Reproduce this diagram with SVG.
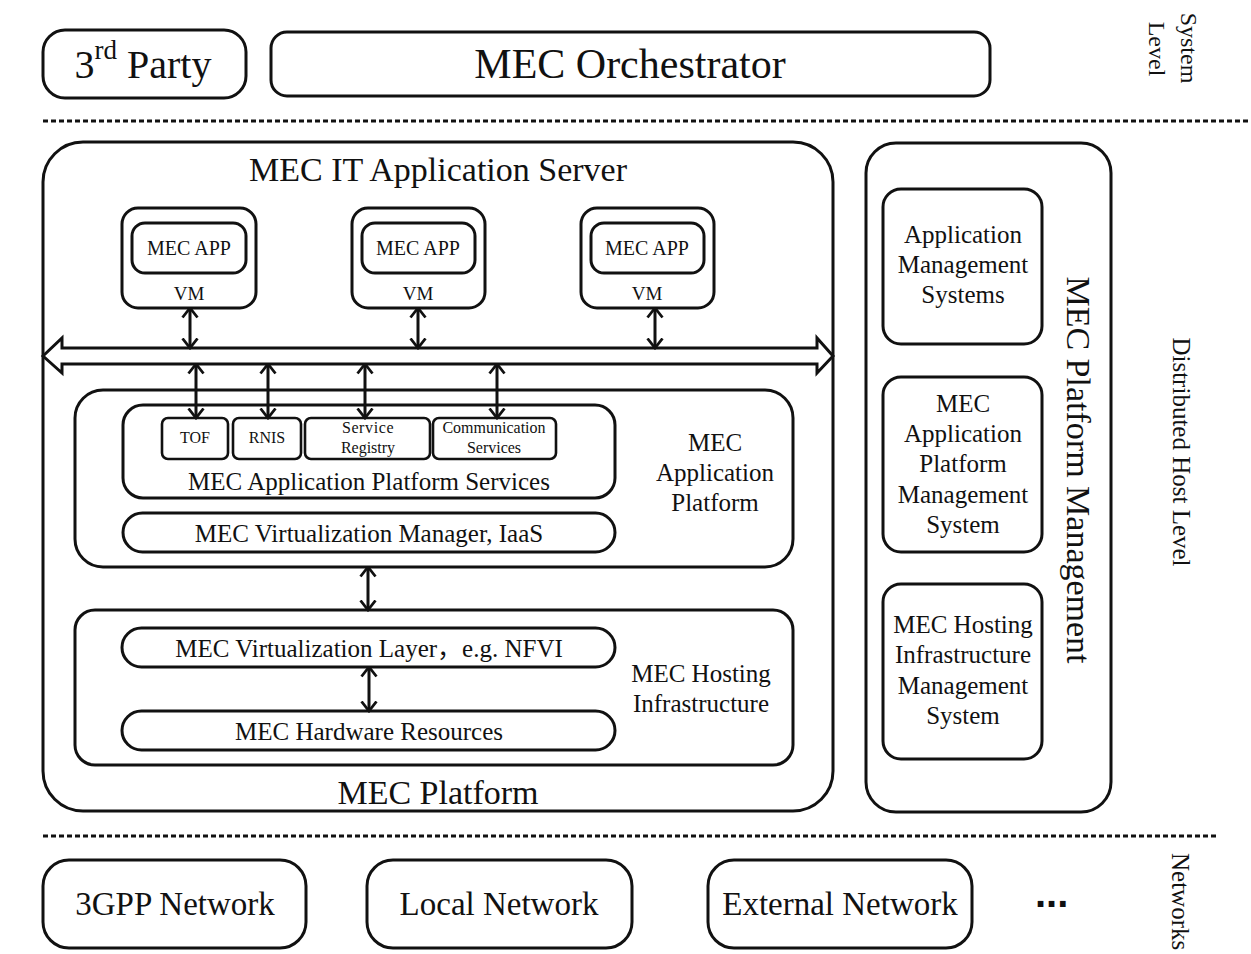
<svg xmlns="http://www.w3.org/2000/svg" width="1251" height="954" viewBox="0 0 1251 954">
  <style>
    .box { fill: #fff; stroke: #111; stroke-width: 3; }
    .thin { fill: #fff; stroke: #111; stroke-width: 2.6; }
    .t { font-family: "Liberation Serif", "Noto Sans CJK SC", serif; fill: #111; text-anchor: middle; }
    .dash { stroke: #111; stroke-width: 3; stroke-dasharray: 5 3; fill: none; }
    .conn { stroke: #111; stroke-width: 3; fill: none; marker-start: url(#head); marker-end: url(#head); }
  </style>
  <defs>
    <marker id="head" viewBox="0 0 12 18" refX="10.5" refY="9" markerWidth="12" markerHeight="18" markerUnits="userSpaceOnUse" orient="auto-start-reverse">
      <path d="M1,1.5 L10.5,9 L1,16.5" fill="none" stroke="#111" stroke-width="2.8"/>
    </marker>
  </defs>
  <rect width="1251" height="954" fill="#fff"/>

  <!-- system level -->
  <g id="third-party">
    <rect class="box" x="43" y="30" width="203" height="68" rx="22"/>
    <text class="t" x="143" y="78" font-size="40">3<tspan font-size="27" dy="-19">rd</tspan><tspan dy="19"> Party</tspan></text>
  </g>
  <g id="orchestrator">
    <rect class="box" x="271" y="32" width="719" height="64" rx="16"/>
    <text class="t" x="630" y="78" font-size="42">MEC Orchestrator</text>
  </g>
  <text class="t" font-size="24" transform="translate(1181,48) rotate(90)">System</text>
  <text class="t" font-size="24" transform="translate(1149,49) rotate(90)">Level</text>

  <line class="dash" x1="43" y1="121" x2="1251" y2="121"/>

  <!-- distributed host level -->
  <g id="it-app-server">
    <rect class="box" x="43" y="142" width="790" height="669" rx="40"/>
    <text class="t" x="438" y="181" font-size="34">MEC IT Application Server</text>
    <text class="t" x="438" y="804" font-size="34">MEC Platform</text>
  </g>

  <g id="vm1">
    <rect class="box" x="122" y="208" width="134" height="100" rx="16"/>
    <rect class="box" x="132" y="223" width="114" height="50" rx="13"/>
    <text class="t" x="189" y="255" font-size="20">MEC APP</text>
    <text class="t" x="189" y="300" font-size="19">VM</text>
  </g>
  <g id="vm2">
    <rect class="box" x="352" y="208" width="133" height="100" rx="16"/>
    <rect class="box" x="362" y="223" width="113" height="50" rx="13"/>
    <text class="t" x="418" y="255" font-size="20">MEC APP</text>
    <text class="t" x="418" y="300" font-size="19">VM</text>
  </g>
  <g id="vm3">
    <rect class="box" x="581" y="208" width="133" height="100" rx="16"/>
    <rect class="box" x="591" y="223" width="113" height="50" rx="13"/>
    <text class="t" x="647" y="255" font-size="20">MEC APP</text>
    <text class="t" x="647" y="300" font-size="19">VM</text>
  </g>

  <g id="app-platform">
    <rect class="box" x="75" y="390" width="718" height="177" rx="28"/>
    <text class="t" x="715" y="451" font-size="25">MEC</text>
    <text class="t" x="715" y="481" font-size="25">Application</text>
    <text class="t" x="715" y="511" font-size="25">Platform</text>
  </g>
  <g id="platform-services">
    <rect class="box" x="123" y="405" width="492" height="93" rx="20"/>
    <text class="t" x="369" y="490" font-size="25">MEC Application Platform Services</text>
  </g>
  <g id="tof">
    <rect class="thin" x="162" y="418" width="66" height="41" rx="6"/>
    <text class="t" x="195" y="443" font-size="16">TOF</text>
  </g>
  <g id="rnis">
    <rect class="thin" x="233" y="418" width="68" height="41" rx="6"/>
    <text class="t" x="267" y="443" font-size="16">RNIS</text>
  </g>
  <g id="service-registry">
    <rect class="thin" x="305" y="418" width="125" height="41" rx="6"/>
    <text class="t" x="368" y="433" font-size="16" letter-spacing="0.6">Service</text>
    <text class="t" x="368" y="453" font-size="16">Registry</text>
  </g>
  <g id="communication-services">
    <rect class="thin" x="433" y="418" width="123" height="41" rx="6"/>
    <text class="t" x="494" y="433" font-size="16">Communication</text>
    <text class="t" x="494" y="453" font-size="16">Services</text>
  </g>
  <g id="virtualization-manager">
    <rect class="box" x="123" y="513" width="492" height="39" rx="19.5"/>
    <text class="t" x="369" y="542" font-size="25">MEC Virtualization Manager, IaaS</text>
  </g>

  <g id="hosting-infrastructure">
    <rect class="box" x="75" y="610" width="718" height="155" rx="20"/>
    <text class="t" x="701" y="682" font-size="25">MEC Hosting</text>
    <text class="t" x="701" y="712" font-size="25">Infrastructure</text>
  </g>
  <g id="virtualization-layer">
    <rect class="box" x="122" y="628" width="493" height="39" rx="19.5"/>
    <text class="t" x="369" y="657" font-size="25">MEC Virtualization Layer，e.g. NFVI</text>
  </g>
  <g id="hardware-resources">
    <rect class="box" x="122" y="711" width="493" height="39" rx="19.5"/>
    <text class="t" x="369" y="740" font-size="25">MEC Hardware Resources</text>
  </g>

  <g id="platform-management">
    <rect class="box" x="866" y="143" width="245" height="669" rx="30"/>
    <text class="t" font-size="34" transform="translate(1067,470) rotate(90)">MEC Platform Management</text>
  </g>
  <g id="app-mgmt-systems">
    <rect class="box" x="883" y="189" width="159" height="155" rx="18"/>
    <text class="t" x="963" y="243" font-size="25">Application</text>
    <text class="t" x="963" y="273" font-size="25">Management</text>
    <text class="t" x="963" y="303" font-size="25">Systems</text>
  </g>
  <g id="app-platform-mgmt">
    <rect class="box" x="883" y="377" width="159" height="175" rx="18"/>
    <text class="t" x="963" y="412" font-size="25">MEC</text>
    <text class="t" x="963" y="442" font-size="25">Application</text>
    <text class="t" x="963" y="472" font-size="25">Platform</text>
    <text class="t" x="963" y="503" font-size="25">Management</text>
    <text class="t" x="963" y="533" font-size="25">System</text>
  </g>
  <g id="hosting-infra-mgmt">
    <rect class="box" x="883" y="584" width="159" height="175" rx="18"/>
    <text class="t" x="963" y="633" font-size="25">MEC Hosting</text>
    <text class="t" x="963" y="663" font-size="25">Infrastructure</text>
    <text class="t" x="963" y="694" font-size="25">Management</text>
    <text class="t" x="963" y="724" font-size="25">System</text>
  </g>
  <text class="t" font-size="25" transform="translate(1173,452) rotate(90)">Distributed Host Level</text>

  <line class="dash" x1="43" y1="836" x2="1216" y2="836"/>

  <!-- networks -->
  <g id="net-3gpp">
    <rect class="box" x="43" y="860" width="263" height="88" rx="26"/>
    <text class="t" x="175" y="915" font-size="33">3GPP Network</text>
  </g>
  <g id="net-local">
    <rect class="box" x="367" y="860" width="265" height="88" rx="26"/>
    <text class="t" x="499" y="915" font-size="33">Local Network</text>
  </g>
  <g id="net-external">
    <rect class="box" x="708" y="860" width="264" height="88" rx="26"/>
    <text class="t" x="840" y="915" font-size="33">External Network</text>
  </g>
  <text x="1035" y="907" font-family="Liberation Sans, sans-serif" font-weight="bold" font-size="40" fill="#111">...</text>
  <text class="t" font-size="25" style="text-anchor:start" transform="translate(1172,853) rotate(90)">Networks</text>

  <!-- connectors -->
  <g id="connectors">
    <polygon class="box" points="43,356 62,338 62,348 817,348 817,338 833,356 817,373 817,364 62,364 62,373"/>
    <line class="conn" x1="190" y1="308" x2="190" y2="348"/>
    <line class="conn" x1="418" y1="308" x2="418" y2="348"/>
    <line class="conn" x1="655" y1="308" x2="655" y2="348"/>
    <line class="conn" x1="196" y1="364" x2="196" y2="418"/>
    <line class="conn" x1="268" y1="364" x2="268" y2="418"/>
    <line class="conn" x1="365" y1="364" x2="365" y2="418"/>
    <line class="conn" x1="497" y1="364" x2="497" y2="418"/>
    <line class="conn" x1="368" y1="567" x2="368" y2="610"/>
    <line class="conn" x1="369" y1="667" x2="369" y2="711"/>
  </g>
</svg>
